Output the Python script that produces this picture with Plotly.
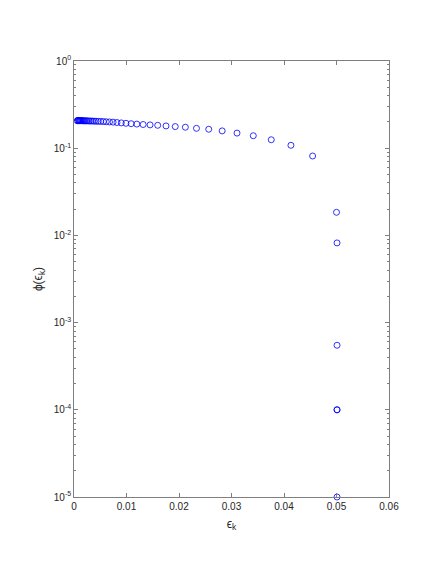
import plotly.graph_objects as go

# epsilon_k values
eps_k = [0.00063, 0.00069, 0.00076, 0.00083, 0.00092, 0.00101, 0.00111, 0.00122,
         0.00134, 0.00147, 0.00162, 0.00178, 0.00196, 0.00216, 0.00237, 0.00261,
         0.00287, 0.00315, 0.00347, 0.00382, 0.00420, 0.00462, 0.00508, 0.00559,
         0.00614, 0.00676, 0.00744, 0.00818, 0.00900, 0.00990, 0.01088, 0.01197,
         0.01317, 0.01449, 0.01594, 0.01753, 0.01928, 0.02121, 0.02333, 0.02566,
         0.02822, 0.03105, 0.03415, 0.03757, 0.04132, 0.04545,
         0.0500, 0.0501, 0.0501, 0.0501, 0.0501, 0.0501]
# phi(eps_k) values
phi_k = [0.207, 0.207, 0.207, 0.207, 0.207, 0.207, 0.207, 0.207,
         0.207, 0.207, 0.207, 0.206, 0.206, 0.206, 0.206, 0.206,
         0.205, 0.205, 0.205, 0.204, 0.204, 0.203, 0.203, 0.202,
         0.201, 0.200, 0.199, 0.197, 0.195, 0.193, 0.191, 0.189,
         0.187, 0.185, 0.183, 0.180, 0.177, 0.174, 0.169, 0.165,
         0.158, 0.149, 0.139, 0.125, 0.108, 0.0814,
         0.0184, 0.0082, 0.00055, 0.0001, 0.0001, 0.00001]

x_ticks = [0, 0.01, 0.02, 0.03, 0.04, 0.05, 0.06]
x_ticktext = ["0", "0.01", "0.02", "0.03", "0.04", "0.05", "0.06"]
y_ticks = [1e-5, 1e-4, 1e-3, 1e-2, 1e-1, 1e0]
y_ticktext = ["10<sup>-5</sup>", "10<sup>-4</sup>", "10<sup>-3</sup>",
              "10<sup>-2</sup>", "10<sup>-1</sup>", "10<sup>0</sup>"]

minor_y = [m * 10.0 ** e for e in range(-5, 0) for m in range(2, 10)]

axis_color = "#7f7f7f"
text_color = "#262626"

fig = go.Figure()
fig.add_trace(go.Scatter(
    x=eps_k, y=phi_k, mode="markers",
    marker=dict(symbol="circle-open", size=6, color="#0000ff",
                line=dict(width=0.8, color="#0000ff")),
    showlegend=False, cliponaxis=False,
))

fig.update_layout(
    width=433, height=561,
    margin=dict(l=66, r=52, t=53, b=72),
    paper_bgcolor="white", plot_bgcolor="white",
    font=dict(family="Liberation Sans, Arial, sans-serif", size=10, color=text_color),
)
fig.update_xaxes(
    range=[0, 0.06], tickvals=x_ticks, ticktext=x_ticktext,
    ticks="inside", ticklen=4, tickcolor=axis_color, tickwidth=0.7,
    showline=True, linecolor=axis_color, linewidth=0.7, mirror="ticks",
    showgrid=False, zeroline=False,
    title=dict(text="ϵ<sub>k</sub>", font=dict(size=12, color=text_color), standoff=8),
)
fig.update_yaxes(
    type="log", range=[-5, 0], tickvals=y_ticks, ticktext=y_ticktext,
    ticks="inside", ticklen=4, tickcolor=axis_color, tickwidth=0.7,
    showline=True, linecolor=axis_color, linewidth=0.7, mirror="ticks",
    showgrid=False, zeroline=False,
    minor=dict(tickvals=minor_y, ticks="inside", ticklen=2,
               tickcolor=axis_color, tickwidth=0.7, showgrid=False),
    title=dict(text="ϕ(ϵ<sub>k</sub>)", font=dict(size=12, color=text_color), standoff=8),
)

fig.write_html("out.html")
